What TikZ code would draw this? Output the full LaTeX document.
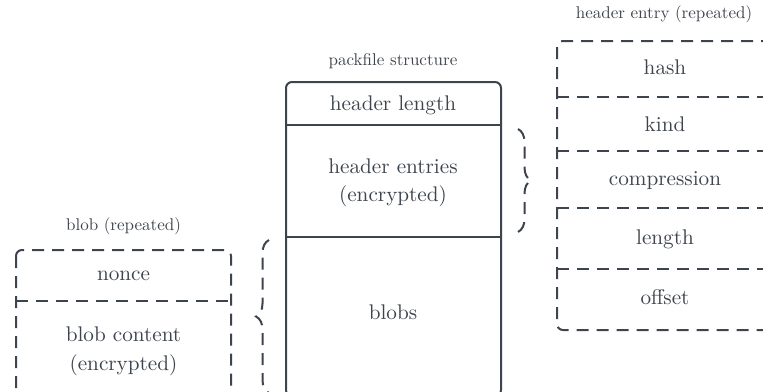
\documentclass[tikz,border=0pt]{standalone}
\usetikzlibrary{decorations.pathreplacing}
\definecolor{ink}{HTML}{3E444D}
\begin{document}
\begin{tikzpicture}[x=1pt,y=-1pt,
  edge/.style={draw=ink, line width=2pt},
  dashedge/.style={edge, dash pattern=on 12pt off 8pt},
  lbl/.style={text=ink, anchor=base, inner sep=0pt, scale=2, font=\fontsize{10.6}{14}\selectfont},
  titlelbl/.style={text=ink, anchor=base, inner sep=0pt, scale=1.7, font=\fontsize{10}{12}\selectfont},
  bracepath/.style={dashedge, decorate, decoration={brace, amplitude=#1}}]
\clip (0,0) rectangle (763,391);

% packfile layout
\draw[edge, rounded corners=6pt] (286,82) rectangle (501,396);
\coordinate (pkL1) at (286,125);   \coordinate (pkR1) at (501,125);
\coordinate (pkL2) at (286,237);   \coordinate (pkR2) at (501,237);
\draw[edge] (pkL1) -- (pkR1);
\draw[edge] (pkL2) -- (pkR2);
\node[titlelbl] (pktitle) at (393,65) {packfile structure};
\node[lbl] (hlen)  at (393,110) {header length};
\node[lbl] (hent)  at (393,173.3) {header entries};
\node[lbl] (henc)  at (393,201.7) {(encrypted)};
\node[lbl] (blobs) at (393,319) {blobs};

% braces linking sections to their detail boxes
\coordinate (brA) at (518,129);  \coordinate (brB) at (518,232);
\draw[bracepath=13pt] (brA) -- (brB);
\coordinate (blA) at (269,240);  \coordinate (blB) at (269,393);
\draw[bracepath=13pt, decoration={mirror}] (blA) -- (blB);

% one blob
\draw[dashedge, rounded corners=6pt] (16,250) rectangle (231,396);
\coordinate (bbL) at (16,300.5);  \coordinate (bbR) at (231,300.5);
\draw[dashedge] (bbL) -- (bbR);
\node[titlelbl] (blobtitle) at (123.5,230) {blob (repeated)};
\node[lbl] (nonce) at (123.5,280) {nonce};
\node[lbl] (bcont) at (123.5,341.7) {blob content};
\node[lbl] (benc)  at (123.5,370) {(encrypted)};

% one header entry
\draw[dashedge, rounded corners=6pt] (557,41) rectangle (773,330);
\foreach \yy/\nm in {96.7/a, 151/b, 208.3/c, 269/d}{
  \coordinate (he\nm L) at (557,\yy);
  \coordinate (he\nm R) at (790,\yy);
  \draw[dashedge] (he\nm L) -- (he\nm R);
}
\node[titlelbl] (hetitle) at (664,18) {header entry (repeated)};
\node[lbl] (hash) at (665,74) {hash};
\node[lbl] (kind) at (665,131.7) {kind};
\node[lbl] (comp) at (665,185) {compression};
\node[lbl] (len)  at (665,244) {length};
\node[lbl] (off)  at (665,304) {offset};
\end{tikzpicture}
\end{document}
